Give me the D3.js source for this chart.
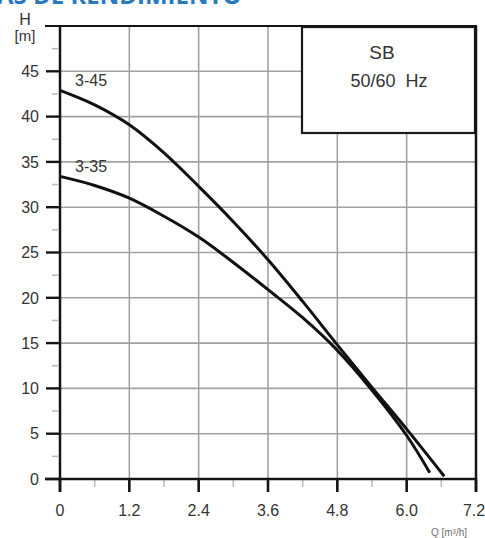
<!DOCTYPE html>
<html><head><meta charset="utf-8">
<script src="https://cdn.jsdelivr.net/npm/d3@7"></script>
<style>body{margin:0;background:#fff}svg{display:block}</style>
</head><body>
<script>
const flow = [0, 0.6, 1.2, 1.8, 2.4, 3.0, 3.6, 4.2, 4.8, 5.4, 6.0];
const head345 = [42.9, 41.3, 39.1, 36.0, 32.3, 28.4, 24.2, 19.6, 14.8, 10.1, 5.5];
const end345 = [6.65, 0.3];
const head335 = [33.4, 32.4, 31.0, 29.0, 26.7, 23.9, 20.9, 17.8, 14.2, 9.8, 4.8];
const end335 = [6.4, 0.7];
const xTicks = [0, 1.2, 2.4, 3.6, 4.8, 6.0, 7.2];
const xTickLabels = ["0", "1.2", "2.4", "3.6", "4.8", "6.0", "7.2"];
const yTicks = [0, 5, 10, 15, 20, 25, 30, 35, 40, 45];
const seriesNames = ["3-45", "3-35"];

const W = 485, H = 538;
const svg = d3.select("body").append("svg").attr("width", W).attr("height", H);
const x = d3.scaleLinear().domain([0, 7.2]).range([60, 476]);
const y = d3.scaleLinear().domain([0, 50]).range([479, 26]);
const font = "Liberation Sans, Arial, sans-serif";
const txt = "#333";

// title (cropped at the top edge, as in the reference)
svg.append("text").attr("x", -3).attr("y", 4).attr("font-family", "Open Sans, sans-serif")
  .attr("font-weight", "bold").attr("font-size", 24).attr("fill", "#2a78c0")
  .text("AS DE RENDIMIENTO");

// grid
const g = svg.append("g");
g.selectAll(".hg").data(yTicks.filter(d => d > 0)).join("line")
  .attr("x1", x(0)).attr("x2", x(7.2)).attr("y1", d => y(d)).attr("y2", d => y(d))
  .attr("stroke", "#a2a2a2").attr("stroke-width", 1.6);
g.selectAll(".vg").data(xTicks.slice(1, 6)).join("line")
  .attr("x1", d => x(d)).attr("x2", d => x(d)).attr("y1", y(50)).attr("y2", y(0))
  .attr("stroke", "#a2a2a2").attr("stroke-width", 1.6);

// minor ticks
const yMinor = d3.range(2.5, 50, 5);
g.selectAll(".ym").data(yMinor).join("line")
  .attr("x1", 52).attr("x2", 58).attr("y1", d => y(d)).attr("y2", d => y(d))
  .attr("stroke", "#b8b8b8").attr("stroke-width", 1.5);
const xMinor = d3.range(0.6, 7.2, 1.2);
g.selectAll(".xm").data(xMinor).join("line")
  .attr("x1", d => x(d)).attr("x2", d => x(d)).attr("y1", y(0)).attr("y2", y(0) + 8)
  .attr("stroke", "#b8b8b8").attr("stroke-width", 1.5);

// legend box
svg.append("rect").attr("x", 302).attr("y", 27).attr("width", 173).attr("height", 106)
  .attr("fill", "#fff").attr("stroke", "#1a1a1a").attr("stroke-width", 2.2);
svg.append("text").attr("x", 382).attr("y", 59).attr("text-anchor", "middle")
  .attr("font-family", font).attr("font-size", 19).attr("fill", txt).text("SB");
svg.append("text").attr("x", 389).attr("y", 87).attr("text-anchor", "middle")
  .attr("font-family", font).attr("font-size", 18).attr("fill", txt)
  .attr("xml:space", "preserve").style("white-space", "pre").text("50/60  Hz");

// frame
const frame = svg.append("g").attr("stroke", "#151515").attr("stroke-width", 2.5);
frame.append("line").attr("x1", 45).attr("x2", x(7.2) + 1).attr("y1", y(50)).attr("y2", y(50)).attr("stroke-width", 2.2);
frame.append("line").attr("x1", 45).attr("x2", x(7.2) + 1).attr("y1", y(0)).attr("y2", y(0));
frame.append("line").attr("x1", x(0)).attr("x2", x(0)).attr("y1", y(50)).attr("y2", y(0) + 13);
frame.append("line").attr("x1", x(7.2)).attr("x2", x(7.2)).attr("y1", y(50)).attr("y2", y(0) + 13);

// major ticks
svg.selectAll(".yt").data(yTicks).join("line")
  .attr("x1", 46).attr("x2", x(0)).attr("y1", d => y(d)).attr("y2", d => y(d))
  .attr("stroke", "#151515").attr("stroke-width", 2.4);
svg.selectAll(".xt").data(xTicks).join("line")
  .attr("x1", d => x(d)).attr("x2", d => x(d)).attr("y1", y(0)).attr("y2", y(0) + 13)
  .attr("stroke", "#151515").attr("stroke-width", 2.6);

// tick labels
svg.selectAll(".yl").data(yTicks).join("text")
  .attr("x", 39).attr("y", d => y(d)).attr("dy", "0.36em").attr("text-anchor", "end")
  .attr("font-family", font).attr("font-size", 16).attr("fill", txt).text(d => d);
svg.selectAll(".xl").data(xTicks).join("text")
  .attr("x", (d, i) => x(d) - (i === xTicks.length - 1 ? 2 : 0)).attr("y", 516).attr("text-anchor", "middle")
  .attr("font-family", font).attr("font-size", 16).attr("fill", txt)
  .text((d, i) => xTickLabels[i]);

// axis titles
svg.append("text").attr("x", 25).attr("y", 25).attr("text-anchor", "middle")
  .attr("font-family", font).attr("font-size", 16).attr("fill", txt).text("H");
svg.append("text").attr("x", 25).attr("y", 41).attr("text-anchor", "middle")
  .attr("font-family", font).attr("font-size", 15).attr("fill", txt).text("[m]");
svg.append("text").attr("x", 449).attr("y", 536).attr("text-anchor", "middle")
  .attr("font-family", font).attr("font-size", 10).attr("fill", "#6f6f6f").text("Q [m³/h]");

// curves
const line = d3.line().x(d => x(d[0])).y(d => y(d[1])).curve(d3.curveCatmullRom.alpha(0.5));
const pts345 = flow.map((q, i) => [q, head345[i]]).concat([end345]);
const pts335 = flow.map((q, i) => [q, head335[i]]).concat([end335]);
[pts345, pts335].forEach(p => {
  svg.append("path").attr("d", line(p)).attr("fill", "none")
    .attr("stroke", "#111").attr("stroke-width", 3);
});

// curve labels
svg.append("text").attr("x", 75).attr("y", 86).attr("font-family", font)
  .attr("font-size", 16).attr("fill", txt).text(seriesNames[0]);
svg.append("text").attr("x", 75).attr("y", 172).attr("font-family", font)
  .attr("font-size", 16).attr("fill", txt).text(seriesNames[1]);
</script>
</body></html>
